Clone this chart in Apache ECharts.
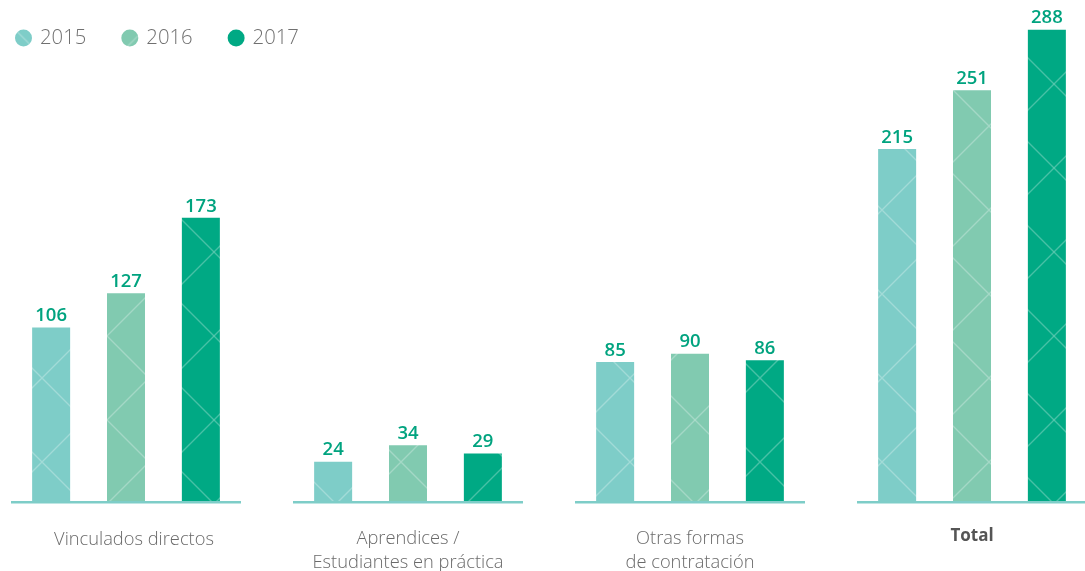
<!DOCTYPE html>
<html>
<head>
<meta charset="utf-8">
<style>
  html, body { margin: 0; padding: 0; background: #ffffff; }
  #chart { width: 1085px; height: 571px; }
</style>
<script src="https://cdn.jsdelivr.net/npm/echarts@6/dist/echarts.min.js"></script>
</head>
<body>
<div id="chart"></div>
<script>
// Personal por tipo de vinculación, 2015–2017
const categories = ['Vinculados directos', 'Aprendices /\nEstudiantes en práctica', 'Otras formas\nde contratación', 'Total'];
const years = ['2015', '2016', '2017'];
const values2015 = [106, 24, 85, 215];
const values2016 = [127, 34, 90, 251];
const values2017 = [173, 29, 86, 288];

const colors = ['#7ecdc8', '#81cab0', '#00a984'];
const labelColor = '#00a37f';
const FONT = '"Open Sans", Lato, sans-serif';

// Bar fill: flat colour with a faint white diamond lattice on top
function latticeFill(base, offset) {
  const s = 84;
  const c = document.createElement('canvas');
  c.width = s; c.height = s;
  const g = c.getContext('2d');
  g.fillStyle = base;
  g.fillRect(0, 0, s, s);
  g.strokeStyle = 'rgba(255,255,255,0.28)';
  g.lineWidth = 1.4;
  const o = offset;
  for (let k = -2; k <= 2; k++) {
    g.beginPath();
    g.moveTo(k * s + o, 0); g.lineTo(k * s + o + s, s);
    g.moveTo(k * s + o + s, 0); g.lineTo(k * s + o, s);
    g.stroke();
  }
  return { image: c, repeat: 'repeat' };
}

const seriesValues = [values2015, values2016, values2017];

const barSeries = years.map((y, i) => ({
  name: y,
  type: 'bar',
  data: seriesValues[i],
  barWidth: 38,
  barGap: '97%',
  itemStyle: { color: latticeFill(colors[i], i * 23) },
  label: {
    show: true,
    position: 'top',
    distance: 2,
    color: labelColor,
    fontFamily: FONT,
    fontWeight: 600,
    fontSize: 18.5
  },
  emphasis: { disabled: true }
}));

const chart = echarts.init(document.getElementById('chart'), null, { renderer: 'canvas' });

chart.setOption({
  animation: false,
  color: colors,
  legend: {
    data: years.map(y => ({ name: y, icon: 'circle' })),
    left: 10,
    top: 23,
    itemWidth: 17,
    itemHeight: 17,
    itemGap: 35,
    textStyle: { color: '#707070', fontFamily: FONT, fontWeight: 300, fontSize: 20.3, padding: [0, 0, 0, 3] },
    selectedMode: false
  },
  grid: { left: -15, right: -28, top: 10, bottom: 70, containLabel: false, outerBoundsMode: 'none' },
  xAxis: {
    type: 'category',
    data: categories,
    axisLine: { show: false },
    axisTick: { show: false },
    axisLabel: {
      interval: 0,
      margin: 26,
      verticalAlign: 'top',
      color: '#6a6a6a',
      fontFamily: FONT,
      fontWeight: 300,
      fontSize: 18.3,
      lineHeight: 24,
      formatter: (v, i) => v === 'Total' ? '{b|Total}' : (i === 0 ? '{p|' + v + '}' : v),
      rich: {
        b: { fontWeight: 'bold', fontSize: 17, lineHeight: 18, color: '#555', fontFamily: FONT },
        p: { fontWeight: 300, fontSize: 18.3, lineHeight: 26, color: '#6a6a6a', fontFamily: FONT, padding: [0, 0, 0, 16] }
      }
    }
  },
  yAxis: {
    type: 'value',
    min: 0,
    max: 300,
    show: false,
    splitLine: { show: false }
  },
  series: [
    ...barSeries,
    {
      // baseline segment under each group of bars
      type: 'custom',
      silent: true,
      z: 5,
      data: categories.map((c, i) => [i, 0]),
      renderItem: (params, api) => {
        const p = api.coord([api.value(0), 0]);
        return {
          type: 'line',
          shape: { x1: p[0] - 115, y1: p[1] + 1.2, x2: p[0] + 115, y2: p[1] + 1.2 },
          style: { stroke: '#7ecdc8', lineWidth: 2.5 }
        };
      }
    }
  ]
});
</script>
</body>
</html>
